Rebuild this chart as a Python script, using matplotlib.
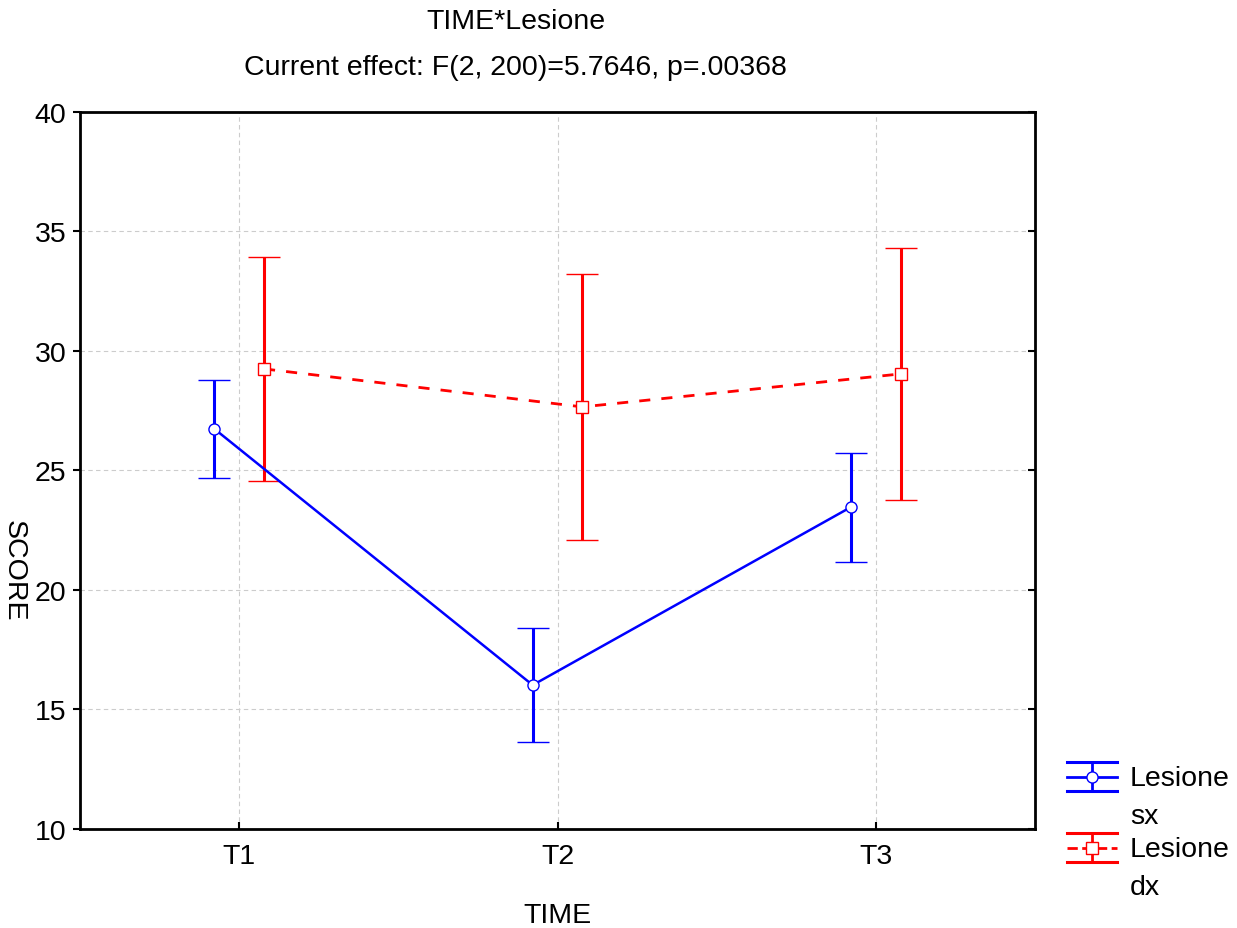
import numpy as np
import matplotlib
matplotlib.use("Agg")
import matplotlib.pyplot as plt
from matplotlib.lines import Line2D, TICKLEFT
from matplotlib.legend_handler import HandlerBase

plt.rcParams['font.family'] = ['Liberation Sans', 'DejaVu Sans']

# medie e intervalli per ogni tempo
tempi = ["T1", "T2", "T3"]
sx_media = [26.74, 16.02, 23.47]
sx_err = [2.05, 2.37, 2.28]
dx_media = [29.25, 27.66, 29.04]
dx_err = [4.70, 5.55, 5.27]

BLU = "#0000ff"
ROSSO = "#ff0000"
FS = 20.5


class HandlerBarre(HandlerBase):
    # simbolo di legenda: tre linee orizzontali, barra verticale e marker
    def create_artists(self, legend, orig, xd, yd, width, height, fontsize, trans):
        c = orig.get_color()
        yc = height / 2 - yd + 0.72 * fontsize
        h = 10.5
        x0, x1 = -xd, width - xd
        xm = (x0 + x1) / 2
        art = [
            Line2D([x0, x1], [yc + h, yc + h], color=c, lw=2.2),
            Line2D([x0, x1], [yc - h, yc - h], color=c, lw=2.2),
            Line2D([x0, x1], [yc, yc], color=c, lw=2.0, ls=orig.get_linestyle()),
            Line2D([xm, xm], [yc - h, yc + h], color=c, lw=2.0),
            Line2D([xm], [yc], marker=orig.get_marker(), ms=8, mfc="white",
                   mec=c, mew=1, ls="none"),
        ]
        for a in art:
            a.set_transform(trans)
        return art


x = np.arange(len(tempi))
shift = 0.078

fig = plt.figure(figsize=(12.37, 9.29), dpi=100)
ax = fig.add_axes([0.0647, 0.1066, 0.772, 0.7718])

ax.errorbar(x - shift, sx_media, yerr=sx_err, color=BLU, lw=1.8,
            marker="o", ms=8, mfc="white", mec=BLU, mew=1,
            capsize=11.5, capthick=2.3, elinewidth=2.2, zorder=3)
ax.errorbar(x + shift, dx_media, yerr=dx_err, color=ROSSO, lw=2.0,
            ls=(0, (4, 4)), marker="s", ms=8, mfc="white", mec=ROSSO, mew=1,
            capsize=11.5, capthick=2.3, elinewidth=2.2, zorder=3)

ax.set_xlim(-0.5, 2.5)
ax.set_ylim(10, 40)
ax.set_xticks(x)
ax.set_xticklabels(tempi)
ax.set_yticks(range(10, 41, 5))
ax.grid(True, color="#cccccc", ls=(0, (4, 3)), lw=0.8)
ax.set_axisbelow(True)
for s in ax.spines.values():
    s.set_linewidth(2)

ax.tick_params(axis="y", direction="out", length=5, width=1.5,
               labelsize=FS, right=True, pad=5)
ax.tick_params(axis="x", direction="in", length=5, width=1.5,
               labelsize=FS, pad=10)
# i tick a destra verso l'interno
for t in ax.yaxis.get_major_ticks():
    t.tick2line.set_marker(TICKLEFT)

ax.set_xlabel("TIME", fontsize=FS, labelpad=24)
fig.text(0.011, 0.386, "SCORE", rotation=270, fontsize=FS, ha="center", va="center")

fig.text(0.417, 0.976, "TIME*Lesione", fontsize=FS, ha="center", va="center")
fig.text(0.417, 0.927, "Current effect: F(2, 200)=5.7646, p=.00368",
         fontsize=FS, ha="center", va="center")

proxy = [Line2D([], [], color=BLU, marker="o"),
         Line2D([], [], color=ROSSO, marker="s", ls=(0, (2, 2)))]
leg = fig.legend(proxy, ["Lesione\nsx", "Lesione\ndx"],
                 handler_map={Line2D: HandlerBarre()},
                 loc="upper left", bbox_to_anchor=(0.842, 0.203), frameon=False,
                 fontsize=FS, handlelength=1.75, labelspacing=0.25,
                 handletextpad=0.45)
for t in leg.get_texts():
    t.set_linespacing(1.6)

fig.savefig("out.png", dpi=100)
